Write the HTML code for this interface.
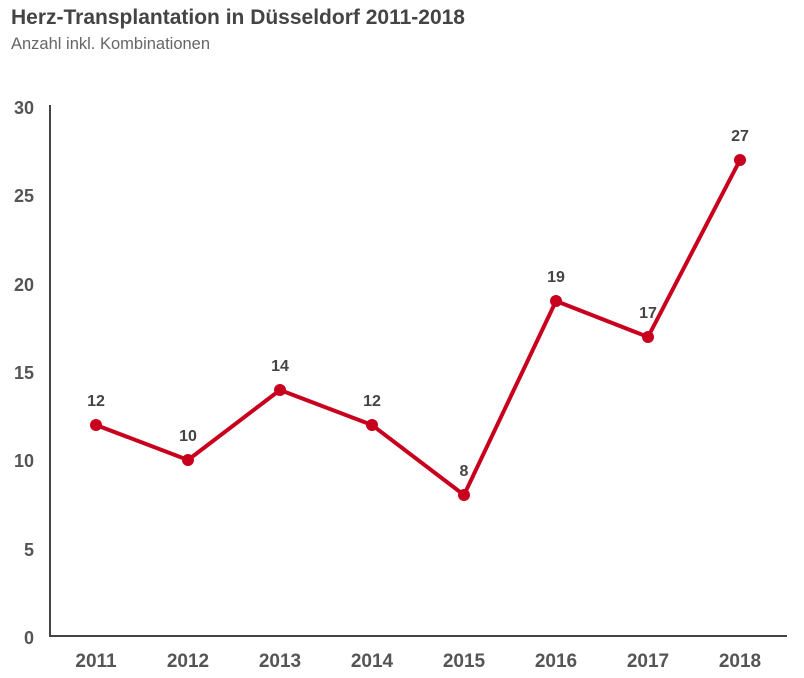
<!DOCTYPE html>
<html><head><meta charset="utf-8"><style>
html,body{margin:0;padding:0;background:#fff;}
svg{display:block;font-family:"Liberation Sans",Arial,sans-serif;}
</style></head><body>
<svg width="804" height="678" viewBox="0 0 804 678" xmlns="http://www.w3.org/2000/svg">
<text x="11" y="24" font-size="21" font-weight="bold" fill="#444">Herz-Transplantation in Düsseldorf 2011-2018</text>
<text x="11" y="49" font-size="16.5" fill="#666">Anzahl inkl. Kombinationen</text>
<g font-size="18" font-weight="bold" fill="#555" text-anchor="end">
<text x="34" y="644">0</text>
<text x="34" y="556">5</text>
<text x="34" y="467">10</text>
<text x="34" y="379">15</text>
<text x="34" y="291">20</text>
<text x="34" y="202">25</text>
<text x="34" y="114">30</text>
</g>
<line x1="50" y1="105" x2="50" y2="637" stroke="#444" stroke-width="2"/>
<line x1="49" y1="636" x2="787" y2="636" stroke="#444" stroke-width="2"/>
<g font-size="19" font-weight="bold" fill="#555" text-anchor="middle">
<text x="96" y="667">2011</text><text x="188" y="667">2012</text><text x="280" y="667">2013</text><text x="372" y="667">2014</text>
<text x="464" y="667">2015</text><text x="556" y="667">2016</text><text x="648" y="667">2017</text><text x="740" y="667">2018</text>
</g>
<polyline fill="none" stroke="#c8001e" stroke-width="4" stroke-linejoin="round"
points="96,425 188,460 280,390 372,425 464,495 556,301 648,337 740,160"/>
<g fill="#c8001e">
<circle cx="96" cy="425" r="6"/><circle cx="188" cy="460" r="6"/><circle cx="280" cy="390" r="6"/><circle cx="372" cy="425" r="6"/>
<circle cx="464" cy="495" r="6"/><circle cx="556" cy="301" r="6"/><circle cx="648" cy="337" r="6"/><circle cx="740" cy="160" r="6"/>
</g>
<g font-size="16" font-weight="bold" fill="#444" text-anchor="middle">
<text x="96" y="406">12</text><text x="188" y="441">10</text><text x="280" y="371">14</text><text x="372" y="406">12</text>
<text x="464" y="476">8</text><text x="556" y="282">19</text><text x="648" y="318">17</text><text x="740" y="141">27</text>
</g>
</svg>
</body></html>
